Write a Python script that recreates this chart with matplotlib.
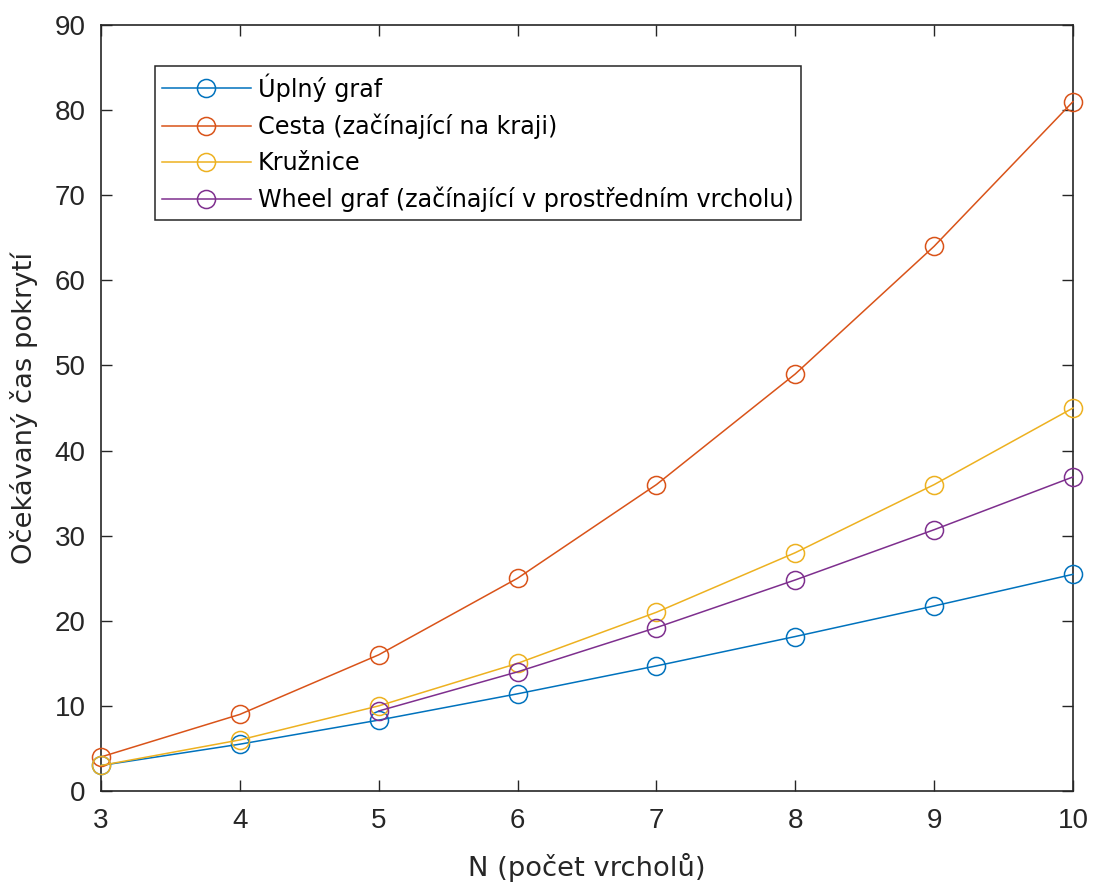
import matplotlib
matplotlib.use("Agg")
import matplotlib.pyplot as plt

N = [3, 4, 5, 6, 7, 8, 9, 10]
uplny = [3.0, 5.5, 8.33, 11.42, 14.7, 18.15, 21.74, 25.46]
cesta = [4, 9, 16, 25, 36, 49, 64, 81]
kruznice = [3, 6, 10, 15, 21, 28, 36, 45]
N_wheel = [5, 6, 7, 8, 9, 10]
wheel = [9.4, 14.0, 19.2, 24.8, 30.7, 36.9]

labels = ["Úplný graf", "Cesta (začínající na kraji)", "Kružnice",
          "Wheel graf (začínající v prostředním vrcholu)"]
colors = ["#0072BD", "#D95319", "#EDB120", "#7E2F8E"]

plt.rcParams['font.family'] = ['Liberation Sans', 'DejaVu Sans']
wide = ['DejaVu Sans']
fg = "#262626"

fig = plt.figure(figsize=(10.94, 8.83), dpi=100)
ax = fig.add_axes([101/1094, 1-791/883, (1073-101)/1094, (791-25)/883])

series = [(N, uplny), (N, cesta), (N, kruznice), (N_wheel, wheel)]
for (x, y), lab, c in zip(series, labels, colors):
    ax.plot(x, y, '-o', color=c, mfc='none', mec=c, ms=13, mew=1.1, lw=1.1,
            label=lab, clip_on=False, zorder=3)

ax.set_xlim(3, 10)
ax.set_ylim(0, 90)
ax.set_xticks(range(3, 11))
ax.set_yticks(range(0, 91, 10))
ax.tick_params(direction='in', length=8, width=1, colors=fg, labelsize=20,
               top=True, right=True)
ax.tick_params(axis='x', pad=12)
ax.tick_params(axis='y', pad=11)
for s in ax.spines.values():
    s.set_color(fg)
    s.set_linewidth(1.2)
ax.set_xlabel("N (počet vrcholů)", fontsize=19.7, color=fg, labelpad=14,
              family=wide)
ax.set_ylabel("Očekávaný čas pokrytí", fontsize=19.7, color=fg, labelpad=12,
              family=wide)

leg = ax.legend(loc='upper left', bbox_to_anchor=((155-101)/972, (791-66)/766),
                borderaxespad=0, prop={'family': wide, 'size': 17.2},
                handlelength=3.7, handletextpad=0.3,
                borderpad=0.3, labelspacing=0.5, fancybox=False, framealpha=1)
leg.get_frame().set_edgecolor(fg)
leg.get_frame().set_linewidth(1.1)
for t in leg.get_texts():
    t.set_color("black")

fig.savefig("out.png", dpi=100)
